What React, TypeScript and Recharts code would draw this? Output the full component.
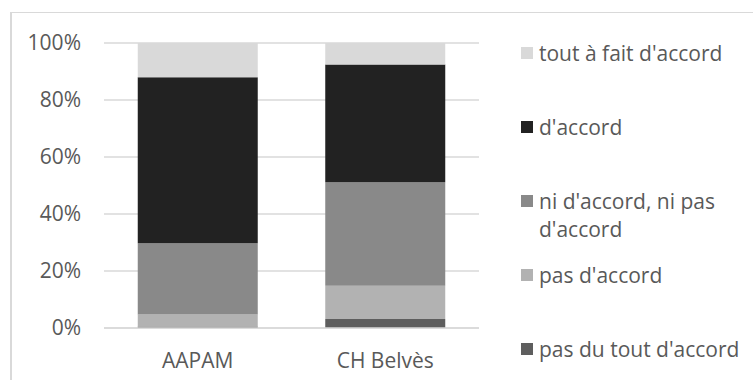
import React from "react";
import { BarChart, Bar, XAxis, YAxis, CartesianGrid } from "recharts";

const categories = ["AAPAM", "CH Belvès"];
const pasDuTout = [0.5, 3.2];
const pasDAccord = [4.2, 11.6];
const niNi = [25.0, 36.3];
const dAccord = [58.3, 41.4];
const toutAFait = [12.0, 7.5];
const yTicks = [0, 20, 40, 60, 80, 100];

const series = [
  { key: "pasDuTout", name: "pas du tout d'accord", color: "#5e5e5e", values: pasDuTout },
  { key: "pasDAccord", name: "pas d'accord", color: "#b2b2b2", values: pasDAccord },
  { key: "niNi", name: "ni d'accord, ni pas d'accord", color: "#898989", values: niNi },
  { key: "dAccord", name: "d'accord", color: "#222222", values: dAccord },
  { key: "toutAFait", name: "tout à fait d'accord", color: "#d9d9d9", values: toutAFait },
];

const data = categories.map((name, i) => {
  const row: Record<string, string | number> = { name };
  series.forEach((s) => {
    row[s.key] = s.values[i];
  });
  return row;
});

const FONT = "'Open Sans', 'Noto Sans', sans-serif";
const TEXT = "#595959";
const FS = 21;

const LegendBox = () => (
  <div
    style={{
      position: "absolute",
      left: 521,
      top: 39,
      fontFamily: FONT,
      fontSize: FS,
      color: TEXT,
    }}
  >
    {[...series].reverse().map((s) => (
      <div key={s.key} style={{ display: "flex", alignItems: "flex-start", height: 74 }}>
        <span
          style={{
            width: 12,
            height: 12,
            marginTop: 8,
            marginRight: 6,
            background: s.color,
            flex: "none",
          }}
        />
        <span style={{ width: 210, lineHeight: "28px", whiteSpace: "normal" }}>{s.name}</span>
      </div>
    ))}
  </div>
);

export default function App() {
  return (
    <div
      style={{
        position: "fixed",
        left: 0,
        top: 0,
        width: 753,
        height: 380,
        overflow: "hidden",
        background: "#fff",
      }}
    >
      <div
        style={{
          position: "absolute",
          left: 10,
          top: 12,
          width: 900,
          height: 500,
          borderTop: "1px solid #d9d9d9",
          borderLeft: "2px solid #d9d9d9",
        }}
      />
      <div style={{ position: "absolute", left: 0, top: 0 }}>
        <BarChart
          width={753}
          height={380}
          data={data}
          margin={{ top: 43, right: 274, bottom: 22, left: 0 }}
          barCategoryGap="18%"
        >
          <CartesianGrid vertical={false} stroke="#d9d9d9" strokeWidth={1.5} />
          <XAxis
            dataKey="name"
            height={30}
            interval={0}
            tickLine={false}
            axisLine={{ stroke: "#d9d9d9", strokeWidth: 1.5 }}
            tickMargin={19}
            tick={{ fontSize: FS, fill: TEXT, fontFamily: FONT }}
          />
          <YAxis
            width={104}
            domain={[0, 100]}
            ticks={yTicks}
            tickFormatter={(v) => `${v}%`}
            axisLine={false}
            tickLine={false}
            tickMargin={17}
            tick={{ fontSize: FS, fill: TEXT, fontFamily: FONT }}
          />
          {series.map((s) => (
            <Bar
              key={s.key}
              dataKey={s.key}
              name={s.name}
              stackId="a"
              fill={s.color}
              isAnimationActive={false}
            />
          ))}
        </BarChart>
      </div>
      <LegendBox />
    </div>
  );
}
